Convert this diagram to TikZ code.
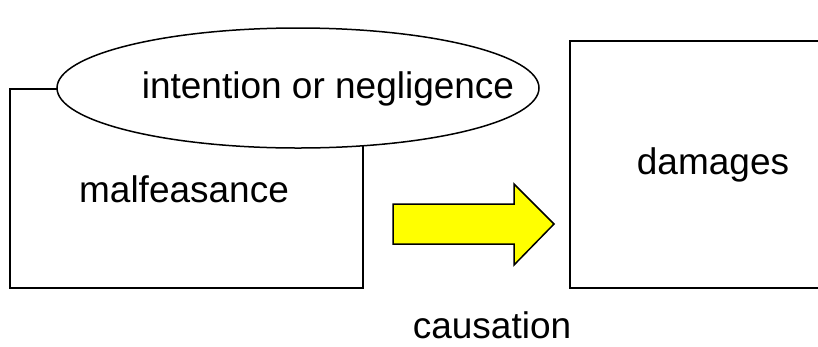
\documentclass[tikz,border=0pt]{standalone}
\usepackage{fontspec}
\setmainfont{Liberation Sans}
\usetikzlibrary{shapes.geometric}
\definecolor{arrowyellow}{HTML}{FFFF00}
\tikzset{
  box/.style={draw=black, line width=1.5pt, rectangle, inner sep=0pt, fill=white},
  oval/.style={draw=black, line width=1.5pt, ellipse, inner sep=0pt, fill=white},
  lbl/.style={font=\fontsize{37}{40}\selectfont, anchor=base, inner sep=0pt},
  blockarrow/.style={draw=black, line width=1.5pt, fill=arrowyellow, line join=miter}
}
\begin{document}
\begin{tikzpicture}[x=1pt, y=-1pt]
  \useasboundingbox (0,0) rectangle (818,346);
  \fill[white] (0,0) rectangle (818,346);
  \begin{scope}
  \clip (0,0) rectangle (818,346);
  \node[box, minimum width=353pt, minimum height=199pt] (mal) at (186.5,188.5) {};
  \node[oval, minimum width=482pt, minimum height=120pt] (intent) at (298,88) {};
  \node[box, minimum width=300pt, minimum height=247pt] (dam) at (720,164.5) {};
  \draw[blockarrow] (393,204) -- (514,204) -- (514,184) -- (554,224) -- (514,265) -- (514,244) -- (393,244) -- cycle;
  \end{scope}
  \node[lbl] (maltext) at (184,202) {malfeasance};
  \node[lbl] (inttext) at (328,98) {intention or negligence};
  \node[lbl] (damtext) at (713,174) {damages};
  \node[lbl] (caus) at (492,338) {causation};
\end{tikzpicture}
\end{document}
